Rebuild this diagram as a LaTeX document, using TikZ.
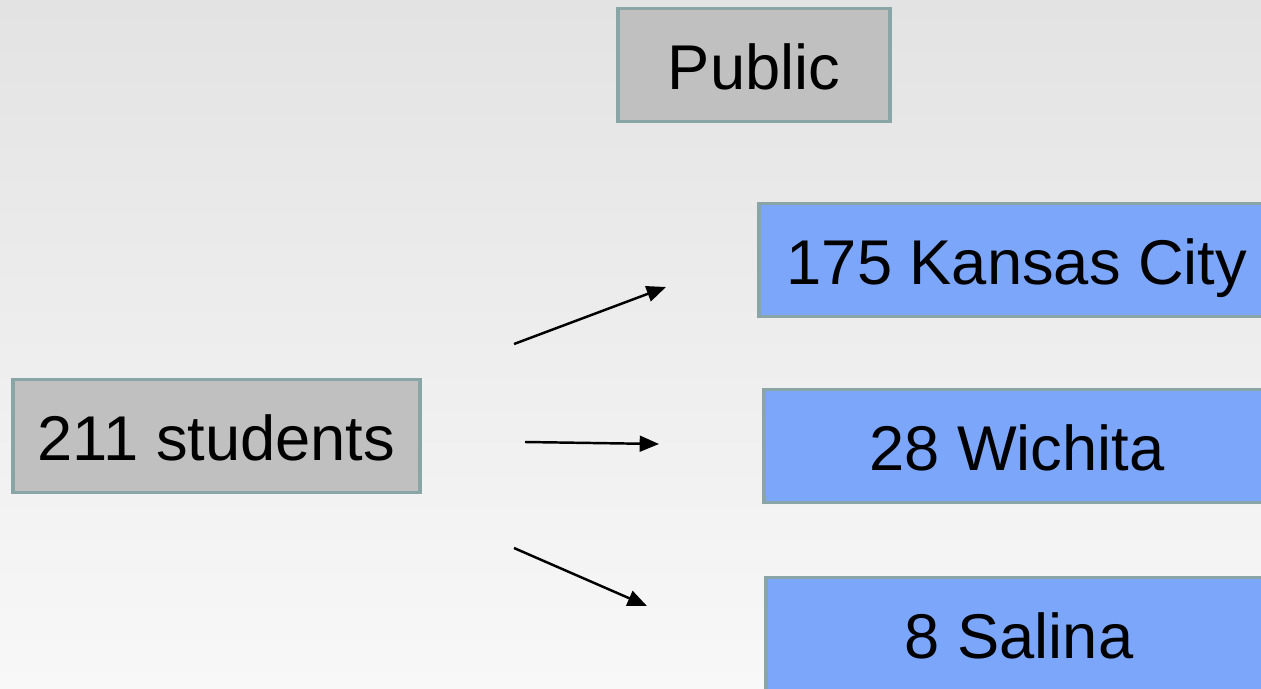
\documentclass[tikz,border=0pt]{standalone}
\usepackage{fontspec}
\setmainfont{Liberation Sans}
\usepackage{xcolor}
\usetikzlibrary{arrows.meta}

\definecolor{bgtop}{HTML}{E3E3E3}
\definecolor{bgbottom}{HTML}{F8F8F8}
\definecolor{boxline}{HTML}{8AA5A5}
\definecolor{greybox}{HTML}{C0C0C0}
\definecolor{bluebox}{HTML}{7BA6FA}

\begin{document}
\begin{tikzpicture}[x=0.02cm, y=-0.02cm,
    box/.style={draw=boxline, line width=2.2pt, minimum height=2.26cm,
                inner sep=0pt, text height=28pt, text depth=0pt,
                font=\fontsize{36}{40}\selectfont},
    grey/.style={box, fill=greybox},
    blue/.style={box, fill=bluebox},
    link/.style={line width=1.4pt, -{Triangle[length=11pt, width=9pt]}}]
		 \useasboundingbox (0,0) rectangle (1261,689);
		 \clip (0,0) rectangle (1261,689);
		 \shade[top color=bgtop, bottom color=bgbottom] (0,0) rectangle (1261,689);

		 % boxes
		 \node[grey, minimum width=5.44cm] (public) at (754,65) {Public};
		 \node[grey, minimum width=8.14cm] (total) at (216.5,436) {211 students};
		 \node[blue, minimum width=10.32cm] (kc) at (1017,260) {175 Kansas City};
		 \node[blue, minimum width=10.12cm] (wichita) at (1017,446) {28 Wichita};
		 \node[blue, minimum width=10.12cm] (salina) at (1019,634) {8 Salina};

		 % arrows
		 \coordinate (kcfrom) at (514,344);
		 \coordinate (kcto) at (666,287);
		 \coordinate (wfrom) at (525,442);
		 \coordinate (wto) at (659,444);
		 \coordinate (sfrom) at (514,548);
		 \coordinate (sto) at (647,606);
		 \draw[link] (kcfrom) -- (kcto);
		 \draw[link] (wfrom) -- (wto);
		 \draw[link] (sfrom) -- (sto);
\end{tikzpicture}
\end{document}
